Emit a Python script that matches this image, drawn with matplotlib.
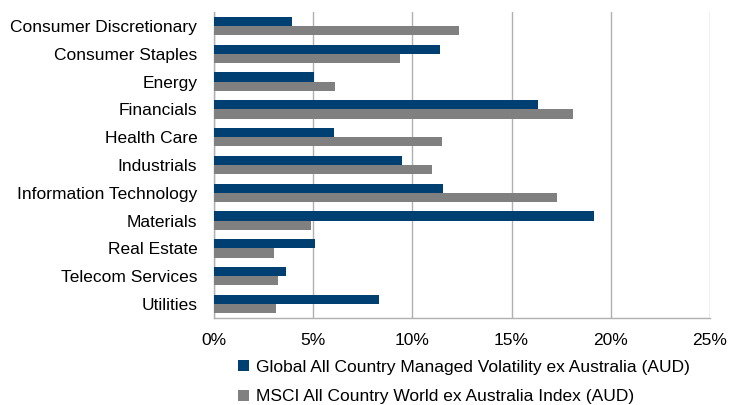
import numpy as np
import matplotlib.pyplot as plt

plt.rcParams['font.family'] = ['Liberation Sans', 'DejaVu Sans']

sectors = ["Consumer Discretionary", "Consumer Staples", "Energy", "Financials",
           "Health Care", "Industrials", "Information Technology", "Materials",
           "Real Estate", "Telecom Services", "Utilities"]
fund = [3.95, 11.4, 5.05, 16.35, 6.05, 9.5, 11.55, 19.15, 5.1, 3.65, 8.3]
index = [12.35, 9.4, 6.1, 18.1, 11.5, 11.0, 17.3, 4.9, 3.0, 3.25, 3.15]
fund_name = "Global All Country Managed Volatility ex Australia (AUD)"
index_name = "MSCI All Country World ex Australia Index (AUD)"

navy = "#003F72"
grey = "#808080"

fig = plt.figure(figsize=(7.3, 4.05), dpi=100)
ax = fig.add_axes([214/730, 1-318/405, (710-214)/730, (318-12)/405])

y = np.arange(len(sectors))
h = 0.33
ax.barh(y - h/2, fund, height=h, color=navy, label=fund_name, zorder=3)
ax.barh(y + h/2, index, height=h, color=grey, label=index_name, zorder=3)

ax.set_xlim(0, 25)
ax.set_ylim(len(sectors) - 0.5, -0.5)
ax.set_yticks(y)
ax.set_yticklabels(sectors, fontsize=12.5)
ax.set_xticks(np.arange(0, 26, 5))
ax.set_xticklabels([f"{v}%" for v in range(0, 26, 5)], fontsize=12.5)
ax.tick_params(axis='y', length=0, pad=12)
ax.tick_params(axis='x', length=0, pad=11)
ax.grid(axis='x', color="#B0B0B0", linewidth=1, zorder=0)
for s in ['top', 'right']:
    ax.spines[s].set_visible(False)
for s in ['left', 'bottom']:
    ax.spines[s].set_color("#B0B0B0")
    ax.spines[s].set_linewidth(1)

fig.legend(loc='upper left', bbox_to_anchor=(229/730, 1-351/405), frameon=False,
           fontsize=12.5, handlelength=0.65, handleheight=0.65, handletextpad=0.4,
           labelspacing=0.85, borderpad=0)

fig.savefig("out.png", dpi=100)
